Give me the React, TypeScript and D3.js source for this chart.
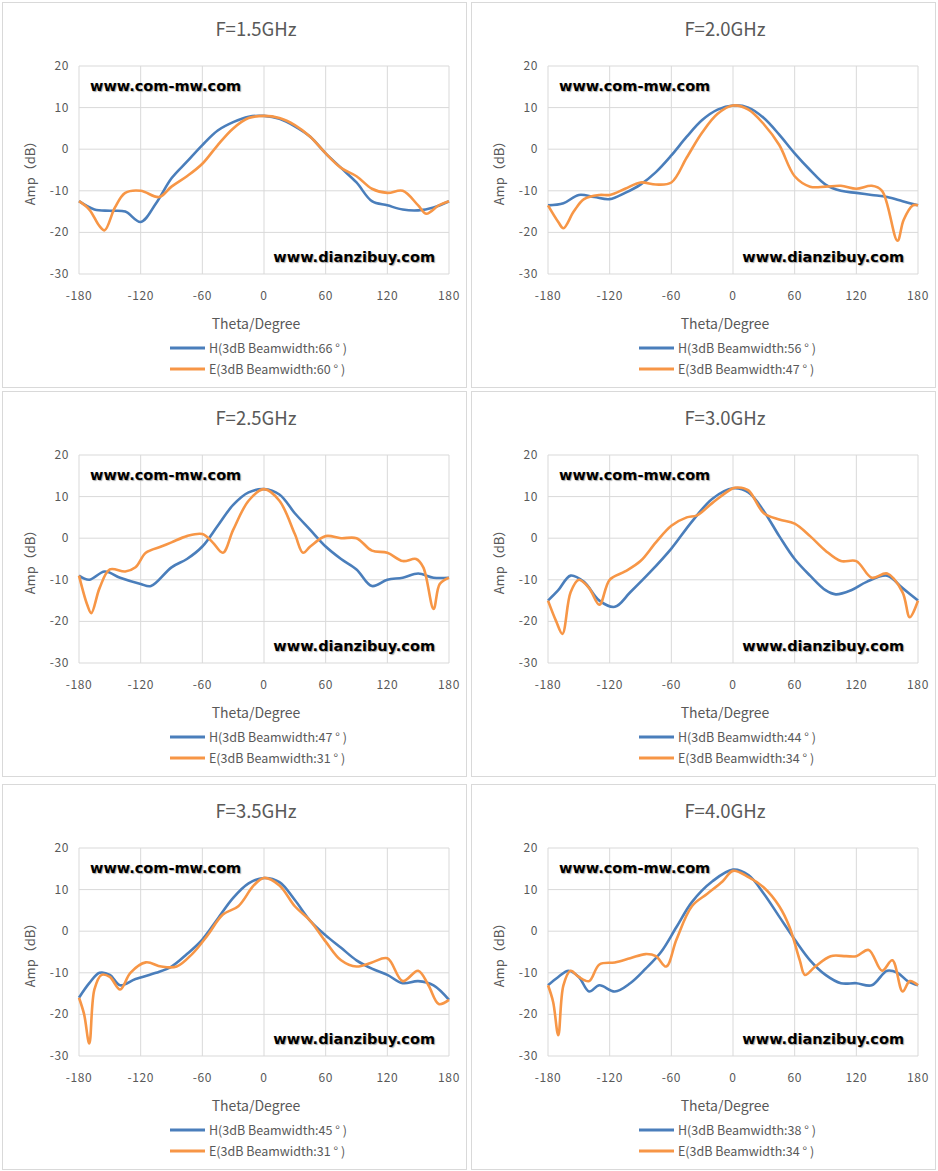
import * as d3 from 'd3';

type P = [number, number];

const titles = ['F=1.5GHz', 'F=2.0GHz', 'F=2.5GHz', 'F=3.0GHz', 'F=3.5GHz', 'F=4.0GHz'];
const hWidths = [66, 56, 47, 44, 45, 38];
const eWidths = [60, 47, 31, 34, 31, 34];
const xTicks = [-180, -120, -60, 0, 60, 120, 180];
const yTicks = [20, 10, 0, -10, -20, -30];

const h15: P[] = [[-180,-12.5],[-165,-14.5],[-150,-14.8],[-135,-15],[-120,-17.5],[-105,-13],[-90,-7],[-75,-3],[-60,1],[-45,4.5],[-30,6.5],[-15,7.8],[0,8],[15,7.3],[30,5.5],[45,3],[60,-1],[75,-4.5],[90,-8],[105,-12.5],[120,-13.5],[135,-14.5],[150,-14.7],[165,-14],[180,-12.5]];
const e15: P[] = [[-180,-12.5],[-170,-14.5],[-160,-18.5],[-155,-19.5],[-145,-14],[-135,-10.5],[-120,-10],[-102,-11.5],[-90,-9],[-75,-6.5],[-60,-3.5],[-45,1],[-30,5],[-15,7.5],[0,8],[15,7.5],[30,5.8],[45,3],[60,-1],[75,-4.5],[90,-6.5],[105,-9.5],[120,-10.5],[135,-10],[150,-13.5],[158,-15.5],[170,-13.5],[180,-12.5]];
const h20: P[] = [[-180,-13.5],[-165,-13],[-150,-11],[-135,-11.5],[-120,-12],[-105,-10.5],[-90,-8.5],[-75,-5.5],[-60,-1.5],[-45,3],[-30,7],[-15,9.5],[0,10.5],[15,10],[30,7.5],[45,3.5],[60,-1],[75,-5],[90,-8.5],[105,-10],[120,-10.5],[135,-11],[150,-11.5],[165,-12.5],[180,-13.5]];
const e20: P[] = [[-180,-13.5],[-170,-17.5],[-165,-19],[-155,-15],[-145,-12],[-130,-11],[-120,-11],[-105,-9.5],[-90,-8],[-75,-8.5],[-60,-8],[-45,-2],[-30,4],[-15,8.5],[0,10.5],[15,9.5],[30,6],[45,1],[60,-6.5],[75,-9],[90,-9],[105,-8.8],[120,-9.5],[135,-8.8],[145,-10],[160,-22],[166,-17],[175,-13.5],[180,-13.5]];
const h25: P[] = [[-180,-9],[-170,-10],[-155,-8],[-140,-9.5],[-120,-11],[-110,-11.5],[-90,-7],[-75,-5],[-60,-2],[-45,3],[-30,8],[-15,11],[0,11.8],[15,10.5],[30,6],[45,2],[60,-2],[75,-5],[90,-7.5],[105,-11.5],[120,-10],[135,-9.5],[150,-8.5],[165,-9.5],[180,-9.5]];
const e25: P[] = [[-180,-9],[-172,-16],[-168,-18],[-160,-12],[-150,-7.5],[-135,-8],[-125,-7],[-115,-3.5],[-100,-2],[-90,-1],[-75,0.5],[-60,1],[-50,-1],[-40,-3.5],[-30,2],[-15,9],[0,11.8],[15,9],[30,1],[38,-3.5],[45,-2],[60,0.5],[75,0],[90,0],[105,-3],[120,-3.5],[135,-5.5],[148,-5],[155,-7],[165,-17],[171,-11],[180,-9.5]];
const h30: P[] = [[-180,-15],[-170,-12.5],[-158,-9],[-145,-10.5],[-130,-15],[-115,-16.5],[-100,-13],[-80,-8],[-60,-2.5],[-40,4],[-20,9.5],[0,12],[15,11],[30,6.5],[45,0.5],[60,-5],[75,-9],[90,-12.5],[100,-13.5],[115,-12.5],[130,-10.5],[150,-9],[165,-12],[180,-15]];
const e30: P[] = [[-180,-15],[-172,-20],[-166,-23],[-158,-13],[-150,-10],[-140,-12],[-130,-16],[-120,-10],[-105,-8],[-90,-5.5],[-75,-1],[-60,3],[-45,5],[-35,5.5],[-20,8.5],[0,12],[5,12.2],[15,11.5],[30,6],[45,4.5],[60,3.5],[75,0.5],[90,-3],[105,-5.5],[120,-5.5],[135,-9.5],[150,-8.5],[165,-13],[172,-19],[180,-15]];
const h35: P[] = [[-180,-16],[-170,-12.5],[-160,-10],[-150,-10.5],[-140,-13],[-125,-11.5],[-105,-10],[-90,-8.5],[-75,-5.5],[-60,-2],[-45,3],[-30,8],[-15,11.5],[0,12.8],[15,11.8],[30,7.5],[45,2.5],[60,-1],[75,-4],[90,-7],[105,-9],[120,-10.5],[135,-12.5],[150,-12],[165,-13],[180,-16.5]];
const e35: P[] = [[-180,-16],[-175,-20],[-170,-27],[-165,-14],[-158,-10.5],[-150,-11],[-140,-14],[-130,-10],[-115,-7.5],[-100,-8.5],[-85,-8.5],[-70,-5.5],[-55,-1],[-40,4],[-25,6],[-10,11],[0,12.8],[15,11],[30,6],[45,2.5],[60,-2.5],[75,-7],[90,-8.5],[105,-7.5],[120,-6.5],[135,-12],[150,-9.5],[160,-13],[170,-17.5],[180,-16.5]];
const h40: P[] = [[-180,-13],[-170,-11],[-160,-9.5],[-150,-11],[-140,-14.5],[-130,-13],[-115,-14.5],[-100,-12.5],[-85,-9],[-70,-5],[-55,1],[-40,7],[-20,12],[0,14.8],[15,13.5],[30,9],[45,3.5],[60,-2],[75,-7],[90,-10.5],[105,-12.5],[120,-12.5],[135,-13],[150,-9.5],[160,-10],[170,-12],[180,-13]];
const e40: P[] = [[-180,-13],[-175,-17],[-170,-25],[-165,-13],[-158,-9.5],[-150,-11],[-140,-12],[-130,-8],[-115,-7.5],[-100,-6.5],[-85,-5.5],[-75,-6],[-65,-8.5],[-55,-2],[-40,6],[-25,9],[-10,12],[0,14.5],[15,13],[30,10.5],[45,6],[55,1],[65,-7],[70,-10.5],[80,-8.5],[95,-6],[110,-6],[120,-6],[132,-4.5],[145,-9.5],[155,-7],[165,-14.5],[172,-12],[180,-13]];

const hSeries = [h15, h20, h25, h30, h35, h40];
const eSeries = [e15, e20, e25, e30, e35, e40];

const font = '"Microsoft YaHei", "Noto Sans CJK SC", "Noto Sans", sans-serif';
const blue = '#4A7EBB';
const orange = '#F79646';
const text = '#595959';

const PW = 465;
const PH = 386;
const origins: P[] = [[2, 2], [471, 2], [2, 391], [471, 391], [2, 784], [471, 784]];
const plot = { left: 77, top: 64, width: 370, height: 208 };

const x = d3.scaleLinear().domain([-180, 180]).range([plot.left, plot.left + plot.width]);
const y = d3.scaleLinear().domain([-30, 20]).range([plot.top + plot.height, plot.top]);
const line = d3.line<P>().x((d) => x(d[0])).y((d) => y(d[1])).curve(d3.curveCatmullRom.alpha(0.5));

const wm = { fontFamily: '"DejaVu Sans", Verdana, sans-serif', textShadow: '1px 1px 1px #aaa' };

const Panel = ({ i }: { i: number }) => {
  const [ox, oy] = origins[i];
  const cx = plot.left + plot.width / 2;
  return (
    <g transform={`translate(${ox},${oy})`}>
      <rect x={0.5} y={0.5} width={PW - 1} height={PH - 1} fill="#fff" stroke="#d9d9d9" />
      <text x={cx - 8} y={34} textAnchor="middle" fontSize={18.5} fill={text}>{titles[i]}</text>
      {xTicks.map((t) => (
        <line key={'x' + t} x1={x(t)} x2={x(t)} y1={y(-30)} y2={y(20)} stroke="#d9d9d9" />
      ))}
      {yTicks.map((t) => (
        <line key={'y' + t} x1={x(-180)} x2={x(180)} y1={y(t)} y2={y(t)} stroke="#d9d9d9" />
      ))}
      {xTicks.map((t) => (
        <text key={'xl' + t} x={x(t)} y={y(-30) + 26} textAnchor="middle" fontSize={12} fill={text} letterSpacing={0.6}>{t}</text>
      ))}
      {yTicks.map((t) => (
        <text key={'yl' + t} x={x(-180) - 10} y={y(t) + 4} textAnchor="end" fontSize={12} fill={text} letterSpacing={0.6}>{t}</text>
      ))}
      <text x={cx - 8} y={plot.top + plot.height + 55} textAnchor="middle" fontSize={14} fill={text}>Theta/Degree</text>
      <text transform={`translate(${33},${plot.top + plot.height / 2}) rotate(-90)`} textAnchor="middle" fontSize={13} fill={text}>Amp（dB）</text>
      <text x={plot.left + 11} y={plot.top + 25} fontSize={14.5} fontWeight="bold" fill="#000" style={wm}>www.com-mw.com</text>
      <text x={plot.left + plot.width - 14} y={plot.top + plot.height - 12} textAnchor="end" fontSize={14.5} fontWeight="bold" fill="#000" style={wm}>www.dianzibuy.com</text>
      <path d={line(hSeries[i]) || ''} fill="none" stroke={blue} strokeWidth={2.6} />
      <path d={line(eSeries[i]) || ''} fill="none" stroke={orange} strokeWidth={2.6} />
      {[['H', hWidths[i], blue], ['E', eWidths[i], orange]].map(([k, w, c], j) => (
        <g key={k as string} transform={`translate(${cx - 94},${plot.top + plot.height + 74 + j * 21})`}>
          <line x1={0} x2={35} y1={0} y2={0} stroke={c as string} strokeWidth={3} />
          <text x={39} y={5} fontSize={12.5} fill={text}>{`${k}(3dB Beamwidth:${w} ° )`}</text>
        </g>
      ))}
    </g>
  );
};

export default function App() {
  return (
    <svg width={938} height={1171} style={{ position: 'absolute', left: 0, top: 0, fontFamily: font, background: '#fff' }}>
      <rect width={938} height={1171} fill="#fff" />
      {titles.map((_, i) => <Panel key={i} i={i} />)}
    </svg>
  );
}
